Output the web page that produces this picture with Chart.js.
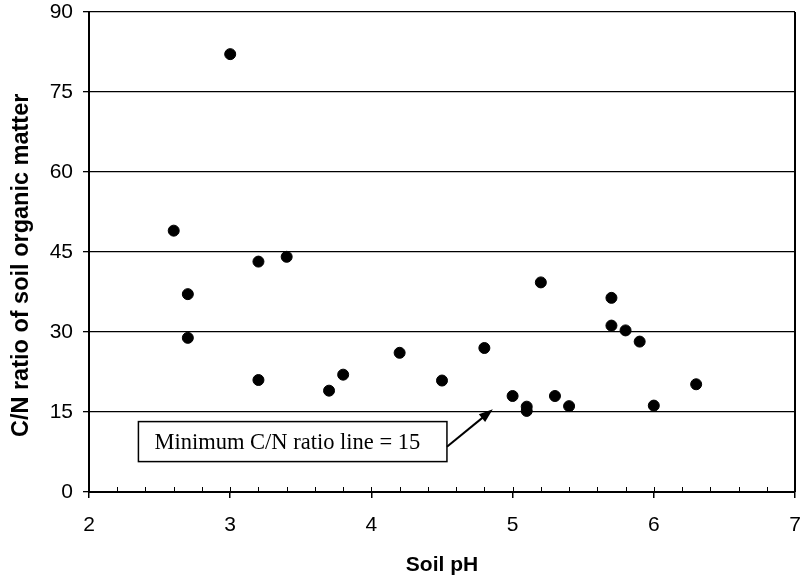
<!DOCTYPE html>
<html>
<head>
<meta charset="utf-8">
<script src="https://cdn.jsdelivr.net/npm/chart.js@4"></script>
<style>
    html, body { margin: 0; padding: 0; background: #fff; }
    #wrap { width: 810px; height: 578px; }
</style>
</head>
<body>
<div id="wrap"><canvas id="chart" width="810" height="578"></canvas></div>
<script>
// Soil pH vs C/N ratio values
const soilPh = [2.6, 2.7, 2.7, 3.0, 3.2, 3.2, 3.4, 3.7, 3.8, 4.2, 4.5, 4.8,
                5.0, 5.1, 5.1, 5.2, 5.3, 5.4, 5.7, 5.7, 5.8, 5.9, 6.0, 6.3];
const cnRatio = [49, 37.1, 28.9, 82.1, 43.2, 21, 44.1, 19, 22, 26.1, 20.9, 27,
                 18, 16, 15.2, 39.3, 18, 16.1, 36.4, 31.2, 30.3, 28.2, 16.2, 20.2];

const xMin = 2, xMax = 7, xStep = 1, xMinorStep = 0.2;
const yMin = 0, yMax = 90, yStep = 15;

const yTitle = 'C/N ratio of soil organic matter';
const noteText = 'Minimum C/N ratio line = 15';

const points = soilPh.map((x, i) => ({ x: x, y: cnRatio[i] }));

// Frame, minor ticks, y title, note box and arrow
const extras = {
    id: 'extras',
    afterDatasetsDraw(chart) {
        const ctx = chart.ctx;
        const area = chart.chartArea;
        const xs = chart.scales.x;
        const ys = chart.scales.y;
        ctx.save();
        ctx.strokeStyle = '#000';
        ctx.fillStyle = '#000';
        ctx.lineWidth = 2;
        // right border
        ctx.beginPath();
        ctx.moveTo(area.right, area.top);
        ctx.lineTo(area.right, area.bottom);
        ctx.stroke();

        // minor ticks inside the plot
        ctx.lineWidth = 1;
        ctx.beginPath();
        for (let v = xMin; v <= xMax + 1e-9; v += xMinorStep) {
            const px = Math.round(xs.getPixelForValue(v)) + 0.5;
            ctx.moveTo(px, area.bottom);
            ctx.lineTo(px, area.bottom - 5);
        }
        ctx.stroke();

        // y axis title
        ctx.save();
        ctx.translate(22, ys.getPixelForValue(42.5));
        ctx.rotate(-Math.PI / 2);
        ctx.font = 'bold 23.5px "Liberation Sans", Arial, sans-serif';
        ctx.textAlign = 'center';
        ctx.textBaseline = 'middle';
        ctx.fillText(yTitle, 0, 0);
        ctx.restore();

        // note box
        const bx1 = xs.getPixelForValue(2.35), bx2 = xs.getPixelForValue(4.535);
        const by1 = ys.getPixelForValue(13.2), by2 = ys.getPixelForValue(5.7);
        ctx.fillStyle = '#fff';
        ctx.fillRect(bx1, by1, bx2 - bx1, by2 - by1);
        ctx.lineWidth = 1.5;
        ctx.strokeRect(bx1, by1, bx2 - bx1, by2 - by1);
        ctx.fillStyle = '#000';
        ctx.font = '22.5px "Liberation Serif", "Times New Roman", serif';
        ctx.textBaseline = 'middle';
        ctx.fillText(noteText, bx1 + 16, (by1 + by2) / 2 + 1);

        // arrow
        const ax1 = bx2, ay1 = ys.getPixelForValue(8.5);
        const ax2 = xs.getPixelForValue(4.86), ay2 = ys.getPixelForValue(15.5);
        const ang = Math.atan2(ay2 - ay1, ax2 - ax1);
        ctx.lineWidth = 2;
        ctx.beginPath();
        ctx.moveTo(ax1, ay1);
        ctx.lineTo(ax2 - 10 * Math.cos(ang), ay2 - 10 * Math.sin(ang));
        ctx.stroke();
        ctx.beginPath();
        ctx.moveTo(ax2, ay2);
        ctx.lineTo(ax2 - 14 * Math.cos(ang) + 5 * Math.sin(ang), ay2 - 14 * Math.sin(ang) - 5 * Math.cos(ang));
        ctx.lineTo(ax2 - 14 * Math.cos(ang) - 5 * Math.sin(ang), ay2 - 14 * Math.sin(ang) + 5 * Math.cos(ang));
        ctx.closePath();
        ctx.fill();
        ctx.restore();
    }
};

new Chart(document.getElementById('chart').getContext('2d'), {
    type: 'scatter',
    data: {
        datasets: [{
            label: 'C/N ratio',
            data: points,
            backgroundColor: '#000',
            borderColor: '#000',
            pointRadius: 5.5,
            pointHoverRadius: 5.5
        }]
    },
    options: {
        responsive: false,
        animation: false,
        events: [],
        layout: { padding: { top: 12, right: 15, left: 0, bottom: 0 } },
        plugins: {
            legend: { display: false },
            tooltip: { enabled: false }
        },
        scales: {
            x: {
                type: 'linear',
                min: xMin,
                max: xMax,
                afterFit(scale) {
                    scale.height = 86;
                    scale.paddingLeft = 0;
                    scale.paddingRight = 0;
                },
                border: { color: '#000', width: 2 },
                grid: { drawOnChartArea: false, drawTicks: true, tickLength: 6, color: '#000', lineWidth: 1.5 },
                ticks: {
                    stepSize: xStep,
                    color: '#000',
                    padding: 15,
                    maxRotation: 0,
                    font: { family: '"Liberation Sans", Arial, sans-serif', size: 21 }
                },
                title: {
                    display: true,
                    text: 'Soil pH',
                    color: '#000',
                    padding: { top: 4, bottom: 0 },
                    font: { family: '"Liberation Sans", Arial, sans-serif', size: 21, weight: 'bold' }
                }
            },
            y: {
                type: 'linear',
                min: yMin,
                max: yMax,
                afterFit(scale) {
                    scale.width = 89;
                    scale.paddingTop = 0;
                    scale.paddingBottom = 0;
                },
                border: { color: '#000', width: 2 },
                grid: { color: '#000', lineWidth: 1.3, tickLength: 6, drawTicks: true },
                ticks: {
                    stepSize: yStep,
                    color: '#000',
                    padding: 10,
                    font: { family: '"Liberation Sans", Arial, sans-serif', size: 21 }
                }
            }
        }
    },
    plugins: [extras]
});
</script>
</body>
</html>
